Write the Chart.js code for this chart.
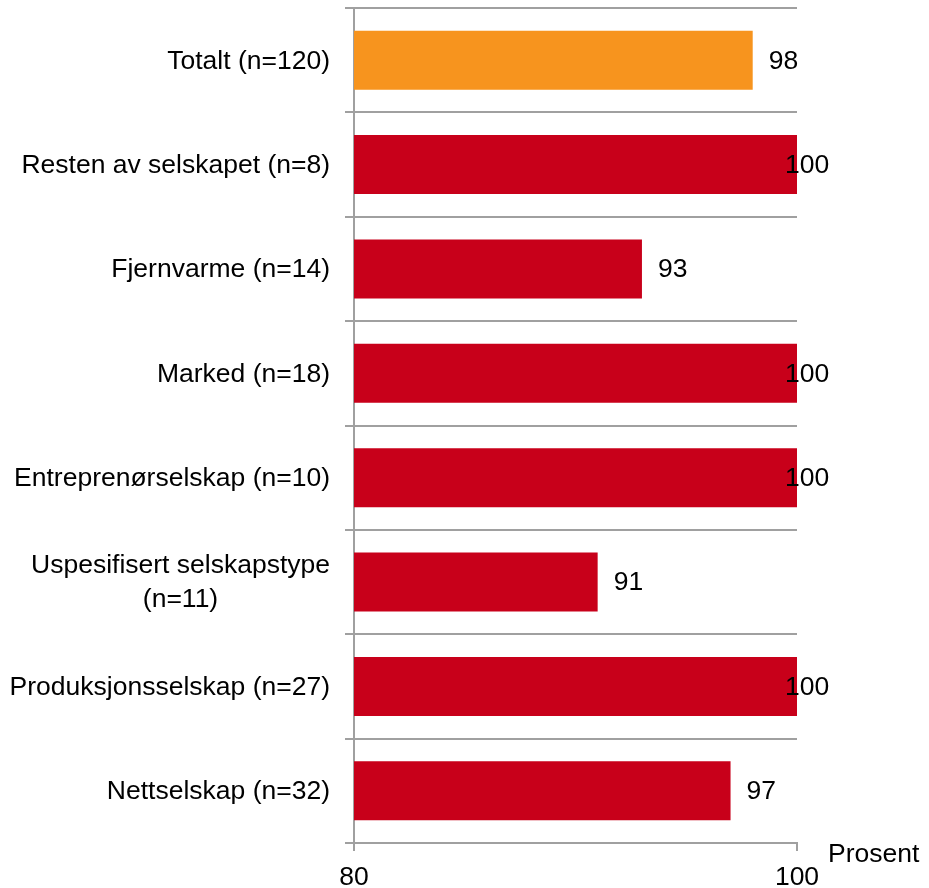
<!DOCTYPE html>
<html>
<head>
<meta charset="utf-8">
<script src="https://cdn.jsdelivr.net/npm/chart.js@4.4.1/dist/chart.umd.min.js"></script>
<style>
  html, body { margin: 0; padding: 0; background: #ffffff; }
  #wrap { width: 929px; height: 888px; position: relative; }
</style>
</head>
<body>
<div id="wrap"><canvas id="c" width="929" height="888"></canvas></div>
<script>
const categories = [
  'Totalt (n=120)',
  'Resten av selskapet (n=8)',
  'Fjernvarme (n=14)',
  'Marked (n=18)',
  'Entreprenørselskap (n=10)',
  ['Uspesifisert selskapstype', '(n=11)'],
  'Produksjonsselskap (n=27)',
  'Nettselskap (n=32)'
];
const values = [98, 100, 93, 100, 100, 91, 100, 97];
const xTickValues = [80, 100];
const axisTitle = 'Prosent';

const FONT = 'Liberation Sans, Arial, sans-serif';
const FS = 26.5;
const GRID = '#a0a0a0';
const ORANGE = '#F7941E';
const RED = '#C8001A';

const yLabelPlugin = {
  id: 'yLabels',
  afterDraw(chart) {
    const ctx = chart.ctx;
    const ys = chart.scales.y;
    ctx.save();
    ctx.font = FS + 'px ' + FONT;
    ctx.fillStyle = '#000';
    ctx.textAlign = 'center';
    ctx.textBaseline = 'middle';
    const rightEdge = ys.right - 24;
    const lh = 34;
    categories.forEach((lab, i) => {
      const lines = Array.isArray(lab) ? lab : [lab];
      const y = ys.getPixelForTick(i) + 1;
      const w = Math.max(...lines.map(l => ctx.measureText(l).width));
      const cx = rightEdge - w / 2;
      const y0 = y - (lines.length - 1) * lh / 2;
      lines.forEach((l, k) => ctx.fillText(l, cx, y0 + k * lh));
    });
    ctx.restore();
  }
};

const dataLabelPlugin = {
  id: 'dataLabels',
  afterDatasetsDraw(chart) {
    const ctx = chart.ctx;
    const meta = chart.getDatasetMeta(0);
    const xs = chart.scales.x;
    ctx.save();
    ctx.font = FS + 'px ' + FONT;
    ctx.fillStyle = '#000';
    ctx.textAlign = 'left';
    ctx.textBaseline = 'middle';
    meta.data.forEach((bar, i) => {
      const x = Math.min(bar.x + 16, xs.right - 12);
      ctx.fillText(String(values[i]), x, bar.y + 1);
    });
    ctx.restore();
  }
};

const titlePlugin = {
  id: 'axisTitle',
  afterDraw(chart) {
    const ctx = chart.ctx;
    const xs = chart.scales.x;
    ctx.save();
    ctx.font = FS + 'px ' + FONT;
    ctx.fillStyle = '#000';
    ctx.textAlign = 'left';
    ctx.textBaseline = 'alphabetic';
    ctx.fillText(axisTitle, xs.right + 31, xs.top + 19);
    ctx.restore();
  }
};

new Chart(document.getElementById('c'), {
  type: 'bar',
  data: {
    labels: categories,
    datasets: [{
      data: values,
      backgroundColor: values.map((v, i) => i === 0 ? ORANGE : RED),
      borderWidth: 0,
      barPercentage: 0.565,
      categoryPercentage: 1.0
    }]
  },
  options: {
    indexAxis: 'y',
    responsive: false,
    animation: false,
    devicePixelRatio: 1,
    layout: { padding: { top: 8, right: 132, left: 0, bottom: 0 } },
    plugins: {
      legend: { display: false },
      tooltip: { enabled: false }
    },
    scales: {
      x: {
        type: 'linear',
        min: xTickValues[0],
        max: xTickValues[xTickValues.length - 1],
        afterBuildTicks(scale) {
          scale.ticks = xTickValues.map(v => ({ value: v }));
        },
        afterFit(scale) { scale.height = 45; },
        grid: {
          drawOnChartArea: false,
          drawTicks: true,
          tickLength: 8,
          color: GRID,
          lineWidth: 2
        },
        border: { display: true, color: GRID, width: 2 },
        ticks: {
          color: '#000',
          padding: 11,
          font: { family: FONT, size: FS },
          maxRotation: 0,
          autoSkip: false
        }
      },
      y: {
        type: 'category',
        offset: true,
        afterFit(scale) { scale.width = 354; },
        grid: {
          offset: true,
          drawOnChartArea: true,
          drawTicks: true,
          tickLength: 9,
          color: GRID,
          lineWidth: 2
        },
        border: { display: true, color: GRID, width: 2 },
        ticks: {
          display: false,
          autoSkip: false
        }
      }
    }
  },
  plugins: [yLabelPlugin, dataLabelPlugin, titlePlugin]
});
</script>
</body>
</html>
